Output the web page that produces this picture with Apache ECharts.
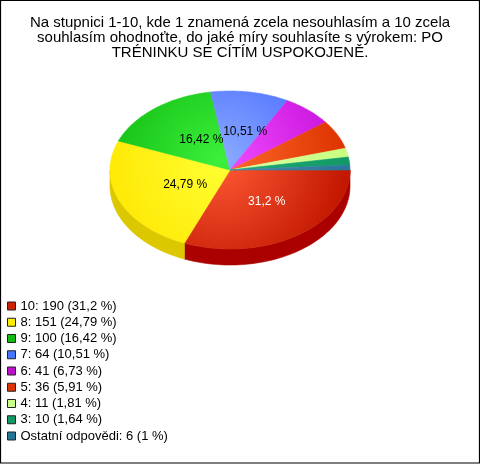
<!DOCTYPE html>
<html><head><meta charset="utf-8">
<script src="https://cdn.jsdelivr.net/npm/echarts@6/dist/echarts.min.js"></script>
<style>html,body{margin:0;padding:0;background:#fff}#c{width:480px;height:464px}</style>
</head><body><div id="c"></div>
<script>
// ---- data ----
const titleLines = [
  "Na stupnici 1-10, kde 1 znamená zcela nesouhlasím a 10 zcela",
  "souhlasím ohodnoťte, do jaké míry souhlasíte s výrokem: PO",
  "TRÉNINKU SE CÍTÍM USPOKOJENĚ."
];
const categories = ["10", "8", "9", "7", "6", "5", "4", "3", "Ostatní odpovědi"];
const values = [190, 151, 100, 64, 41, 36, 11, 10, 6];
const pctLabels = ["31,2", "24,79", "16,42", "10,51", "6,73", "5,91", "1,81", "1,64", "1"];

// ---- style ----
const FONT = "'Liberation Sans', Arial, sans-serif";
const topInner = ["#ff5a36", "#ffff33", "#3cf03c", "#8cacff", "#f04cff", "#ff6a2a", "#ddffaa", "#22aa77", "#4a8aaa"];
const topOuter = ["#c21800", "#ffe600", "#10bb10", "#4466ff", "#c812dc", "#dd3300", "#c8ff80", "#119966", "#2a7799"];
const sideColors = ["#aa0000", "#dcc800", "#0c9a0c", "#3355cc", "#9a0eaa", "#aa2800", "#a0cc66", "#0c7750", "#1f5a77"];
const legendColors = ["#cc2200", "#ffee00", "#11bb11", "#4477ff", "#bb11cc", "#dd3300", "#ccff88", "#119966", "#227799"];
const labelColors = ["#ffffff", "#000", "#000", "#000", "#000", "#000", "#000", "#000", "#000"];
const CX = 230, CY = 170, RX = 120, RY = 79, DEPTH = 16;

const total = values.reduce((a, b) => a + b, 0);
const starts = [];
{ let acc = 0; values.forEach(v => { starts.push(acc); acc += v; }); }
const ang = x => x / total * Math.PI * 2;
function arcPts(t0, t1, dy) {
  const n = Math.max(2, Math.ceil((t1 - t0) / (Math.PI / 120)));
  const pts = [];
  for (let i = 0; i <= n; i++) {
    const t = t0 + (t1 - t0) * i / n;
    pts.push([CX + RX * Math.cos(t), CY + RY * Math.sin(t) + dy]);
  }
  return pts;
}

const chart = echarts.init(document.getElementById('c'));
chart.setOption({
  animation: false,
  backgroundColor: '#fff',
  title: {
    text: titleLines.join('\n'),
    left: 'center', top: 15, padding: 0,
    textStyle: { fontFamily: FONT, fontSize: 15, fontWeight: 'normal', color: '#000', lineHeight: 15 }
  },
  legend: {
    orient: 'vertical', left: 7, top: 298, padding: 0,
    icon: 'rect', itemWidth: 8, itemHeight: 8, itemGap: 0.25,
    itemStyle: { borderColor: '#222', borderWidth: 1 },
    selectedMode: false,
    textStyle: { fontFamily: FONT, fontSize: 13, color: '#000', lineHeight: 16 },
    formatter: name => {
      const i = categories.indexOf(name);
      return name + ': ' + values[i] + ' (' + pctLabels[i] + ' %)';
    },
    data: categories
  },
  graphic: [{
    type: 'rect', silent: true,
    shape: { x: 0.5, y: 0.5, width: 479, height: 462.5 },
    style: { fill: 'none', stroke: '#000', lineWidth: 1.2 }
  }],
  series: [
    {
      type: 'pie', radius: [0, 0], center: [-200, -200], silent: true,
      label: { show: false }, labelLine: { show: false },
      data: categories.map((c, i) => ({ name: c, value: values[i], itemStyle: { color: legendColors[i] } }))
    },
    {
      type: 'custom', coordinateSystem: 'none', silent: true,
      data: values,
      renderItem: (params, api) => {
        const i = params.dataIndex;
        const v = api.value(0);
        const t0 = ang(starts[i]), t1 = ang(starts[i] + v);
        const children = [];
        const a = Math.max(t0, 0), b = Math.min(t1, Math.PI);
        if (b > a) {
          const top = arcPts(a, b, 0);
          const bot = arcPts(a, b, DEPTH).reverse();
          children.push({ type: 'polygon', z2: 1, shape: { points: top.concat(bot) },
            style: { fill: sideColors[i], stroke: sideColors[i], lineWidth: 0.6 } });
        }
        const grad = { type: 'radial', x: CX - 10, y: CY - 10, r: RX * 1.05, global: true,
          colorStops: [{ offset: 0, color: topInner[i] }, { offset: 1, color: topOuter[i] }] };
        children.push({ type: 'polygon', z2: 10, shape: { points: [[CX, CY]].concat(arcPts(t0, t1, 0)) },
          style: { fill: grad, stroke: grad, lineWidth: 0.6 } });
        if (v / total >= 0.1) {
          const m = (t0 + t1) / 2;
          children.push({ type: 'text', z2: 20,
            x: CX + 6 + RX * 0.46 * Math.cos(m), y: CY + RY * 0.49 * Math.sin(m),
            style: { text: pctLabels[i] + ' %', fill: labelColors[i], font: '12px ' + FONT,
              align: 'center', verticalAlign: 'middle' } });
        }
        return { type: 'group', children };
      }
    }
  ]
});
</script></body></html>
